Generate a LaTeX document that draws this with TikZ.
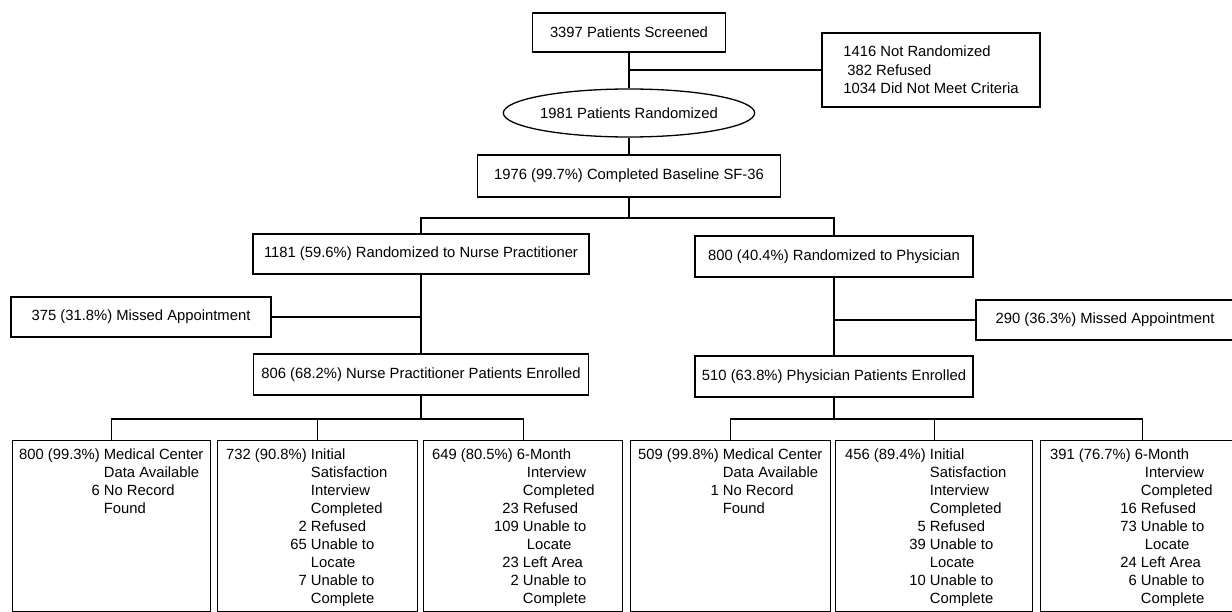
\documentclass[tikz,border=0pt]{standalone}
\usepackage{fontspec}
\setmainfont{Liberation Sans}
\usetikzlibrary{shapes.geometric,calc}
\newcommand\dfont{\fontsize{14.8}{18}\selectfont}
\newlength\tabw
\newcommand\nm[1]{\makebox[\tabw][r]{#1}\hspace{4.1pt}}
\begin{document}
\begin{tikzpicture}[x=1pt,y=-1pt,
  box/.style={draw, line width=1.4pt, inner sep=0pt, align=center, font=\dfont},
  bbox/.style={draw, line width=1.4pt, inner sep=0pt, anchor=north west, minimum height=171pt},
  txt/.style={anchor=north west, inner sep=0pt, align=left},
  link/.style={line width=1.4pt}]
\useasboundingbox (0,0) rectangle (1232,612);
\fill[white] (0,0) rectangle (1232,612);

% top part
\node[box, minimum width=193pt, minimum height=39pt] (A) at (629,32.5) {3397 Patients Screened};
\node[box, minimum width=218pt, minimum height=74pt, align=left, font=\fontsize{14.8}{18.5}\selectfont] (NR) at (931,70) {1416 Not Randomized\\\hspace*{4pt}382 Refused\\1034 Did Not Meet Criteria};
\node[draw, ellipse, line width=1.3pt, inner sep=0pt, minimum width=228pt, minimum height=48pt, font=\dfont] (E) at (629,113) {1981 Patients Randomized};
\node[box, minimum width=303pt, minimum height=42pt] (B) at (629,176) {1976 (99.7\%) Completed Baseline SF-36};

% arms
\node[box, minimum width=336pt, minimum height=40pt] (NP1) at (421,254) {1181 (59.6\%) Randomized to Nurse Practitioner};
\node[box, minimum width=278pt, minimum height=41pt] (PH1) at (834,256.5) {800 (40.4\%) Randomized to Physician};
\node[box, minimum width=260pt, minimum height=40pt] (MA1) at (141,317) {375 (31.8\%) Missed Appointment};
\node[box, minimum width=258pt, minimum height=40pt] (MA2) at (1105,320) {290 (36.3\%) Missed Appointment};
\node[box, minimum width=335pt, minimum height=41pt] (NP2) at (421,374.5) {806 (68.2\%) Nurse Practitioner Patients Enrolled};
\node[box, minimum width=278pt, minimum height=41pt] (PH2) at (834,376.5) {510 (63.8\%) Physician Patients Enrolled};

% bottom boxes
\node[bbox, minimum width=198pt] (b1) at (12,440) {};
\node[bbox, minimum width=200pt] (b2) at (217,440) {};
\node[bbox, minimum width=199pt] (b3) at (423,440) {};
\node[bbox, minimum width=200pt] (b4) at (630,440) {};
\node[bbox, minimum width=197pt] (b5) at (835,440) {};
\node[bbox, minimum width=204pt] (b6) at (1040,440) {};

\node[txt, font={\dfont\settowidth\tabw{800 (99.3\%)}}] (t1) at ($(b1.north west)+(7,6.4)$)
 {\strut\nm{800 (99.3\%)}Medical Center\\\nm{}Data Available\\\nm{6}No Record\\\nm{}Found};
\node[txt, font={\dfont\settowidth\tabw{732 (90.8\%)}}] (t2) at ($(b2.north west)+(9,6.4)$)
 {\strut\nm{732 (90.8\%)}Initial\\\nm{}Satisfaction\\\nm{}Interview\\\nm{}Completed\\\nm{2}Refused\\\nm{65}Unable to\\\nm{}Locate\\\nm{7}Unable to\\\nm{}Complete};
\node[txt, font={\dfont\settowidth\tabw{649 (80.5\%)}\addtolength\tabw{6pt}}] (t3) at ($(b3.north west)+(9,6.4)$)
 {\strut 649 (80.5\%) 6-Month\\\nm{}\hspace{4pt}Interview\\\nm{}Completed\\\nm{23}Refused\\\nm{109}Unable to\\\nm{}\hspace{4pt}Locate\\\nm{23}Left Area\\\nm{2}Unable to\\\nm{}Complete};
\node[txt, font={\dfont\settowidth\tabw{509 (99.8\%)}}] (t4) at ($(b4.north west)+(8,6.4)$)
 {\strut\nm{509 (99.8\%)}Medical Center\\\nm{}Data Available\\\nm{1}No Record\\\nm{}Found};
\node[txt, font={\dfont\settowidth\tabw{456 (89.4\%)}}] (t5) at ($(b5.north west)+(10,6.4)$)
 {\strut\nm{456 (89.4\%)}Initial\\\nm{}Satisfaction\\\nm{}Interview\\\nm{}Completed\\\nm{5}Refused\\\nm{39}Unable to\\\nm{}Locate\\\nm{10}Unable to\\\nm{}Complete};
\node[txt, font={\dfont\settowidth\tabw{391 (76.7\%)}\addtolength\tabw{6pt}}] (t6) at ($(b6.north west)+(10,6.4)$)
 {\strut 391 (76.7\%) 6-Month\\\nm{}\hspace{4pt}Interview\\\nm{}Completed\\\nm{16}Refused\\\nm{73}Unable to\\\nm{}\hspace{4pt}Locate\\\nm{24}Left Area\\\nm{6}Unable to\\\nm{}Complete};

% connectors
\coordinate (j0) at (629,70);
\coordinate (j1) at (629,218);
\coordinate (j2) at (421,419);
\coordinate (j3) at (834,419);
\draw[link] (A.south) -- (E.north);
\draw[link] (j0) -- (NR.west);
\draw[link] (E.south) -- (B.north);
\draw[link] (B.south) -- (j1);
\draw[link] (NP1.north) |- (j1) -| (PH1.north);
\draw[link] (NP1.south) -- (NP2.north);
\draw[link] (MA1.east) -- (MA1.east -| NP1.south);
\draw[link] (PH1.south) -- (PH2.north);
\draw[link] (MA2.west) -- (MA2.west -| PH1.south);
\draw[link] (NP2.south) -- (j2);
\draw[link] (b1.north) |- (j2) -| (b3.north);
\draw[link] (b2.north) -- (b2.north |- j2);
\draw[link] (PH2.south) -- (j3);
\draw[link] (b4.north) |- (j3) -| (b6.north);
\draw[link] (b5.north) -- (b5.north |- j3);
\end{tikzpicture}
\end{document}
